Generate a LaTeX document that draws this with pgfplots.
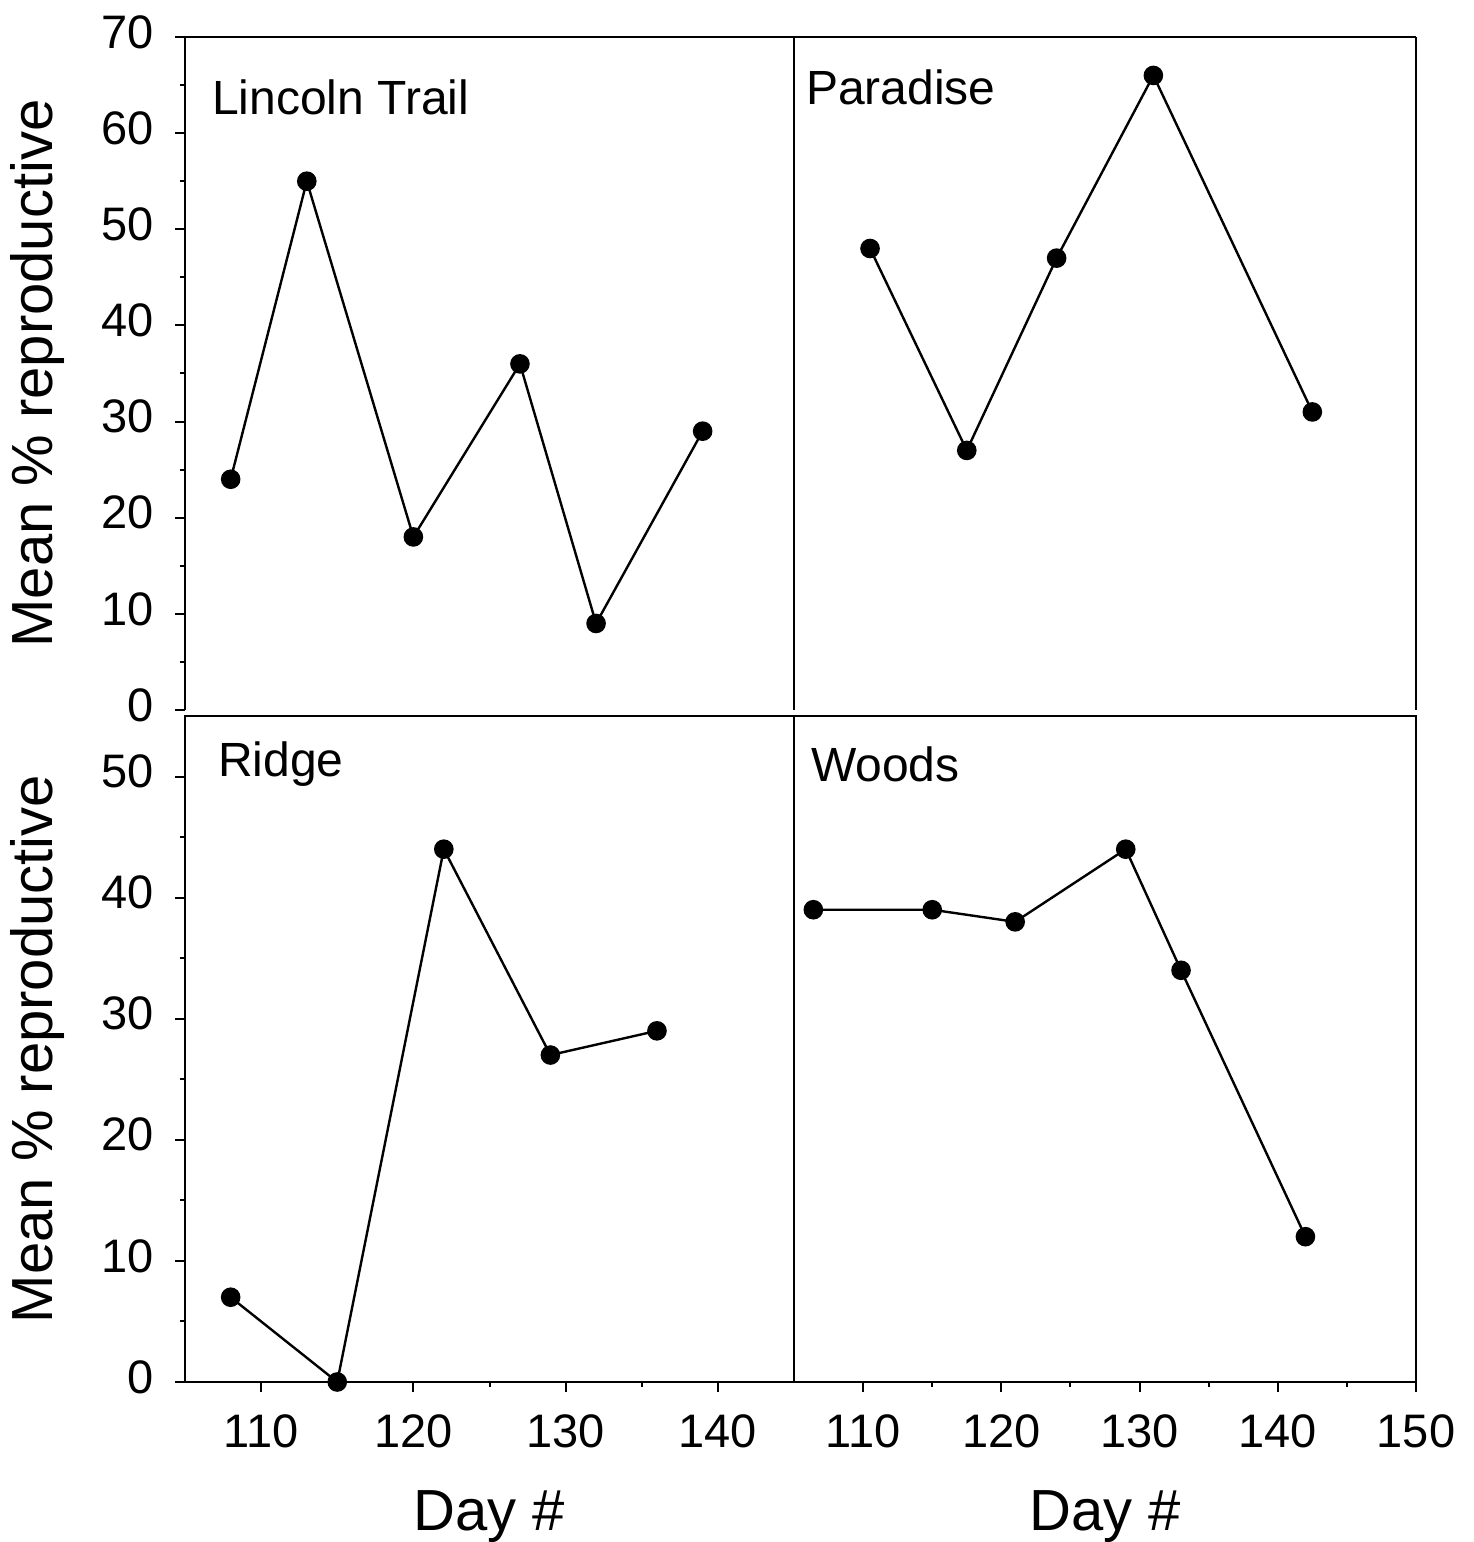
\documentclass[border=0pt]{standalone}
\usepackage{fontspec}
\setmainfont{Liberation Sans}
\usepackage{pgfplots}
\pgfplotsset{compat=1.18}

\tikzset{
  sitename/.style={anchor=base west, font=\fontsize{24}{29}\selectfont},
}
\pgfplotsset{
  panel/.style={
    scale only axis,
    anchor=south west,
    clip=false,
    axis line style={line width=1pt},
    every tick/.style={black, line width=1pt},
    tick align=outside,
    major tick length=5pt,
    minor tick length=2.5pt,
    minor tick num=1,
    /pgf/number format/assume math mode=true,
    tick label style={font=\fontsize{23.5}{28}\selectfont},
    yticklabel style={xshift=-7pt, yshift=2.5pt},
    xticklabel style={yshift=-8pt},
    label style={font=\fontsize{29}{34}\selectfont},
    ylabel style={at={([xshift=-73.5pt]rel axis cs:0,0.5)}, anchor=center},
    xlabel style={at={([yshift=-74pt]rel axis cs:0.5,0)}, anchor=base},
  },
  series/.style={black, line width=1.2pt, mark=*, mark size=4.3pt, mark options={solid, fill=black}},
}

\begin{document}
\begin{tikzpicture}
\path[use as bounding box] (0,0) rectangle (736.5pt,771pt);

% Lincoln Trail (top left)
\begin{axis}[panel, at={(92.5pt,416pt)}, width=304.5pt, height=336.5pt,
  xmin=105, xmax=145, ymin=0, ymax=70,
  axis x line*=top, axis y line*=box,
  xtick=\empty, ytick={0,10,...,70}, ytick pos=left,
  ylabel={Mean \% reproductive}]
\addplot[series] coordinates {(108,24) (113,55) (120,18) (127,36) (132,9) (139,29)};
\node[sitename] at ([xshift=10pt,yshift=-39pt]rel axis cs:0,1) {Lincoln Trail};
\end{axis}

% Paradise (top right)
\begin{axis}[panel, at={(397pt,416pt)}, width=311pt, height=336.5pt,
  xmin=105, xmax=150, ymin=0, ymax=70,
  axis x line*=top, axis y line*=box,
  xtick=\empty, ytick=\empty]
\addplot[series] coordinates {(110.5,48) (117.5,27) (124,47) (131,66) (142.5,31)};
\node[sitename] at ([xshift=2.5pt,yshift=-34pt]rel axis cs:0,1) {Paradise};
\end{axis}

% Ridge (bottom left)
\begin{axis}[panel, at={(92.5pt,80pt)}, width=304.5pt, height=333pt,
  xmin=105, xmax=145, ymin=0, ymax=55,
  xtick={110,120,130,140}, ytick={0,10,...,50},
  xtick pos=bottom, ytick pos=left,
  ylabel={Mean \% reproductive}, xlabel={Day \#}]
\addplot[series] coordinates {(108,7) (115,0) (122,44) (129,27) (136,29)};
\node[sitename] at ([xshift=13pt,yshift=-30.5pt]rel axis cs:0,1) {Ridge};
\end{axis}

% Woods (bottom right)
\begin{axis}[panel, at={(397pt,80pt)}, width=311pt, height=333pt,
  xmin=105, xmax=150, ymin=0, ymax=55,
  xtick={110,120,130,140,150}, ytick=\empty,
  xtick pos=bottom,
  xlabel={Day \#}]
\addplot[series] coordinates {(106.4,39) (115,39) (121,38) (129,44) (133,34) (142,12)};
\node[sitename] at ([xshift=5pt,yshift=-33pt]rel axis cs:0,1) {Woods};
\end{axis}
\end{tikzpicture}
\end{document}
